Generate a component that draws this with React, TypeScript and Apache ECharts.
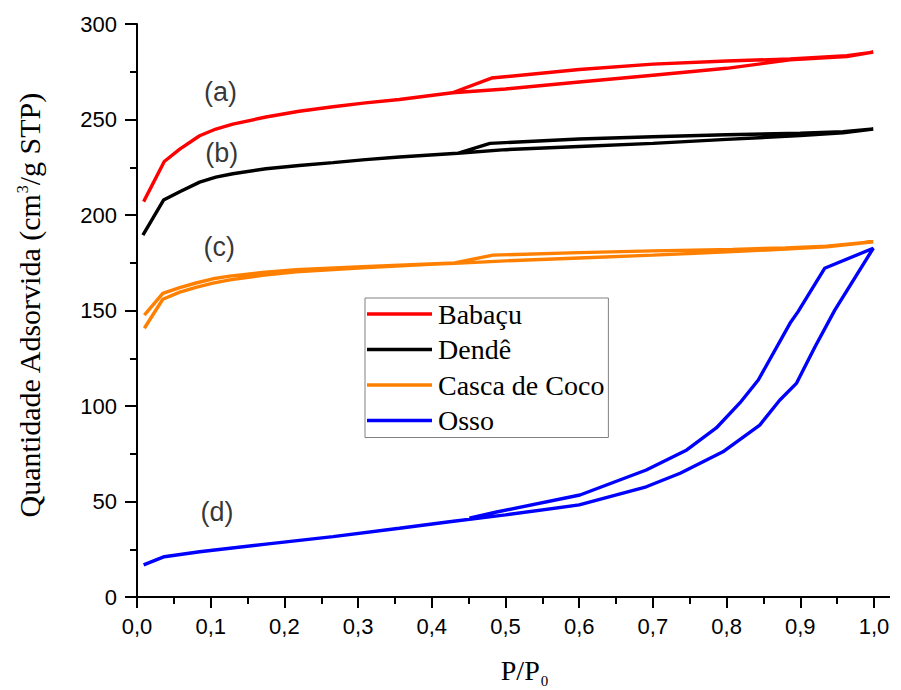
import React, { useEffect, useRef } from "react";
import * as echarts from "echarts";

// ---- Data ----
const babacuAds: [number, number][] = [
  [0.009, 207], [0.037, 228], [0.058, 234.5], [0.085, 241.5], [0.107, 245], [0.13, 247.6],
  [0.175, 251.3], [0.22, 254.3], [0.266, 256.7], [0.31, 258.7], [0.356, 260.5], [0.428, 264],
  [0.5, 266], [0.6, 269.6], [0.7, 273.2], [0.8, 276.8], [0.886, 281.2], [0.963, 283], [0.999, 285.3],
];
const babacuDes: [number, number][] = [
  [0.999, 285.3], [0.963, 283.4], [0.886, 281.7], [0.8, 280.6], [0.7, 279], [0.6, 276.2],
  [0.481, 271.7], [0.428, 264],
];

const dendeAds: [number, number][] = [
  [0.008, 189.5], [0.036, 207.8], [0.058, 212.2], [0.085, 217.2], [0.107, 219.8], [0.13, 221.6],
  [0.175, 224.2], [0.22, 225.9], [0.266, 227.4], [0.31, 229], [0.356, 230.4], [0.435, 232.3],
  [0.5, 234.2], [0.6, 235.9], [0.7, 237.5], [0.8, 239.6], [0.9, 241.6], [0.958, 243], [0.999, 245],
];
const dendeDes: [number, number][] = [
  [0.999, 245], [0.958, 243.6], [0.9, 242.8], [0.8, 242], [0.7, 241], [0.6, 239.8],
  [0.479, 237.5], [0.435, 232.3],
];

const cocoAds: [number, number][] = [
  [0.01, 140.7], [0.035, 155.9], [0.058, 159.6], [0.08, 162.1], [0.103, 164.3], [0.126, 166],
  [0.17, 168.4], [0.216, 170.2], [0.306, 172.4], [0.397, 174.2], [0.431, 174.7], [0.5, 176],
  [0.6, 177.5], [0.7, 179], [0.808, 180.8], [0.88, 182.2], [0.936, 183.4], [0.999, 186],
];
const cocoDes: [number, number][] = [
  [0.999, 186], [0.936, 183.7], [0.88, 182.8], [0.808, 182], [0.7, 181.2], [0.6, 180.3],
  [0.483, 179], [0.431, 174.9], [0.397, 174.4], [0.306, 172.9], [0.216, 171.3], [0.17, 169.9],
  [0.126, 168], [0.103, 166.6], [0.08, 164.4], [0.058, 162], [0.035, 159], [0.01, 147.6],
];

const ossoAds: [number, number][] = [
  [0.009, 16.8], [0.037, 21.1], [0.085, 23.7], [0.175, 27.7], [0.266, 31.6], [0.356, 36],
  [0.424, 39.4], [0.5, 43], [0.6, 48.2], [0.691, 57.7], [0.737, 64.8], [0.795, 76],
  [0.845, 90], [0.872, 103], [0.895, 112], [0.92, 131], [0.947, 150.3], [0.999, 182.6],
];
const ossoDes: [number, number][] = [
  [0.999, 182.6], [0.933, 172.1], [0.897, 149.4], [0.886, 143.3], [0.843, 113.6], [0.818, 101.6],
  [0.786, 88.5], [0.746, 77], [0.691, 66.5], [0.601, 53.4], [0.488, 44.5], [0.451, 41.3],
];

const seriesNames = ["Babaçu", "Dendê", "Casca de Coco", "Osso"];
const seriesColors = ["#FF0000", "#000000", "#FF8000", "#0000FF"];
const seriesData = [
  [...babacuAds, ...babacuDes],
  [...dendeAds, ...dendeDes],
  [...cocoAds, ...cocoDes],
  [...ossoAds, ...ossoDes],
];

const annotationTexts = ["(a)", "(b)", "(c)", "(d)"];
const annotationX = [0.1134, 0.115, 0.1116, 0.1086];
const annotationY = [264.5, 232.3, 183.4, 44.5];

const xTickLabels = ["0,0", "0,1", "0,2", "0,3", "0,4", "0,5", "0,6", "0,7", "0,8", "0,9", "1,0"];

export default function App() {
  const ref = useRef<HTMLDivElement>(null);

  useEffect(() => {
    if (!ref.current) return;
    const chart = echarts.init(ref.current, null, { renderer: "svg" });
    const serif = "'Liberation Serif', 'Times New Roman', serif";
    const sans = "'Liberation Sans', Arial, sans-serif";

    const lineSeries = seriesNames.map((name, i) => ({
      name,
      type: "line",
      data: seriesData[i],
      symbol: "none",
      showSymbol: false,
      smooth: false,
      color: seriesColors[i],
      lineStyle: { width: 3.4, color: seriesColors[i] },
      z: 2 + i,
    }));

    const option: any = {
      animation: false,
      backgroundColor: "#ffffff",
      grid: {
        left: 137, right: 27, top: 24, bottom: 93,
        containLabel: false, outerBoundsMode: "none",
      },
      xAxis: {
        type: "value",
        min: 0,
        max: 1,
        interval: 0.1,
        name: "{p|P/P}{sub|0}",
        nameLocation: "middle",
        nameGap: 59,
        nameTextStyle: {
          fontFamily: serif,
          fontSize: 28,
          color: "#000",
          padding: [0, 0, 0, 38],
          rich: {
            p: { fontFamily: serif, fontSize: 28, lineHeight: 30, verticalAlign: "top", color: "#000" },
            sub: {
              fontFamily: serif, fontSize: 15, lineHeight: 15, verticalAlign: "top",
              padding: [17, 0, 0, 1], color: "#000",
            },
          },
        },
        axisLine: { show: true, lineStyle: { color: "#000", width: 2 } },
        axisTick: { show: true, inside: false, length: 11, lineStyle: { color: "#000", width: 2 } },
        minorTick: { show: true, splitNumber: 2, length: 7, lineStyle: { color: "#000", width: 2 } },
        splitLine: { show: false },
        axisLabel: {
          margin: 18,
          fontFamily: sans,
          fontSize: 22,
          color: "#000",
          formatter: (v: number) => xTickLabels[Math.round(v * 10)] ?? "",
        },
      },
      yAxis: {
        type: "value",
        min: 0,
        max: 300,
        interval: 50,
        name: "{n|Quantidade Adsorvida (cm}{sup|3}{n|/g STP)}",
        nameLocation: "middle",
        nameGap: 91,
        nameTextStyle: {
          fontFamily: serif,
          fontSize: 30,
          color: "#000",
          padding: [0, 0, 0, 10],
          rich: {
            n: { fontFamily: serif, fontSize: 30, lineHeight: 32, verticalAlign: "top", color: "#000" },
            sup: { fontFamily: serif, fontSize: 16, lineHeight: 17, verticalAlign: "top", color: "#000" },
          },
        },
        axisLine: { show: true, lineStyle: { color: "#000", width: 2 } },
        axisTick: { show: true, inside: false, length: 12, lineStyle: { color: "#000", width: 2 } },
        minorTick: { show: true, splitNumber: 2, length: 7, lineStyle: { color: "#000", width: 2 } },
        splitLine: { show: false },
        axisLabel: {
          margin: 20,
          fontFamily: sans,
          fontSize: 22,
          color: "#000",
        },
      },
      legend: {
        data: seriesNames.map((name) => ({ name, icon: "rect" })),
        orient: "vertical",
        left: 365,
        top: 298,
        width: 243,
        padding: [2, 4, 3, 2],
        itemGap: 7.5,
        itemWidth: 65,
        itemHeight: 3.4,
        borderColor: "#808080",
        borderWidth: 1,
        backgroundColor: "#ffffff",
        textStyle: { fontFamily: serif, fontSize: 28, lineHeight: 28, color: "#000", padding: [0, 0, 0, 1] },
      },
      graphic: [
        {
          type: "line",
          shape: { x1: 874, y1: 597, x2: 890, y2: 597 },
          style: { stroke: "#000", lineWidth: 2 },
          z: 10,
        },
      ],
      series: [
        ...lineSeries,
        {
          name: "labels",
          type: "scatter",
          silent: true,
          symbolSize: 1,
          itemStyle: { color: "rgba(0,0,0,0)" },
          data: annotationTexts.map((t, i) => ({ name: t, value: [annotationX[i], annotationY[i]] })),
          label: {
            show: true,
            position: "inside",
            formatter: (p: any) => p.name,
            fontFamily: sans,
            fontSize: 27,
            color: "#000",
          },
          z: 10,
        },
      ],
    };

    chart.setOption(option);
    return () => chart.dispose();
  }, []);

  return (
    <div
      ref={ref}
      style={{ position: "fixed", left: 0, top: 0, width: 901, height: 690, background: "#fff" }}
    />
  );
}
